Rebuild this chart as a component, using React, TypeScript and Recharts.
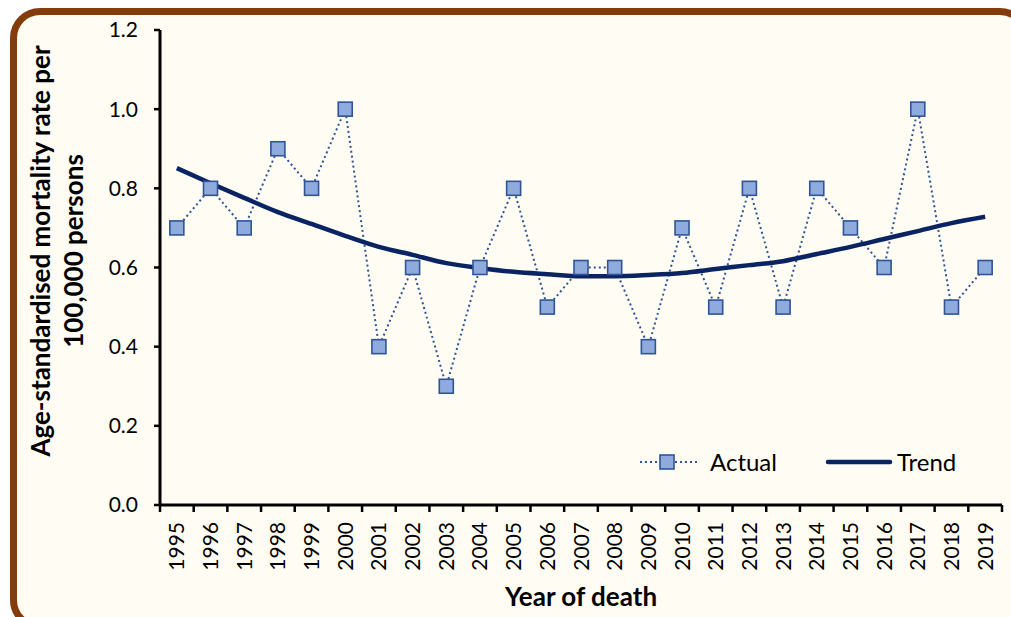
import { LineChart, Line, XAxis, YAxis } from "recharts";

const years = [
  "1995", "1996", "1997", "1998", "1999", "2000", "2001", "2002", "2003",
  "2004", "2005", "2006", "2007", "2008", "2009", "2010", "2011", "2012",
  "2013", "2014", "2015", "2016", "2017", "2018", "2019",
];
const actual = [
  0.7, 0.8, 0.7, 0.9, 0.8, 1.0, 0.4, 0.6, 0.3, 0.6, 0.8, 0.5, 0.6, 0.6, 0.4,
  0.7, 0.5, 0.8, 0.5, 0.8, 0.7, 0.6, 1.0, 0.5, 0.6,
];
const trend = [
  0.851, 0.813, 0.776, 0.74, 0.71, 0.68, 0.652, 0.632, 0.611, 0.599, 0.589,
  0.583, 0.578, 0.578, 0.581, 0.586, 0.596, 0.606, 0.616, 0.634, 0.652, 0.672,
  0.692, 0.712, 0.728,
];
const yTicks = [0, 0.2, 0.4, 0.6, 0.8, 1.0, 1.2];

const data = years.map((year, i) => ({ year, actual: actual[i], trend: trend[i] }));

const W = 1011;
const H = 617;
const PLOT_LEFT = 160;
const PLOT_RIGHT = 1002;
const AXIS_Y = 505;
const BAND = (PLOT_RIGHT - PLOT_LEFT) / years.length;

const FONT = "Lato, 'Open Sans', sans-serif";
const MARKER_FILL = "#8FAADC";
const MARKER_STROKE = "#2F5597";
const TREND = "#0A2362";

function XTick(props: any) {
  const { x, payload, index } = props;
  const half = BAND / 2;
  const last = index === years.length - 1;
  return (
    <g>
      <line x1={x - half} y1={AXIS_Y} x2={x - half} y2={AXIS_Y + 7} stroke="#000" strokeWidth={2.5} />
      {last && (
        <line x1={x + half} y1={AXIS_Y} x2={x + half} y2={AXIS_Y + 7} stroke="#000" strokeWidth={2.5} />
      )}
      <text
        transform={`translate(${x + 7.5},${AXIS_Y + 17}) rotate(-90)`}
        textAnchor="end"
        fontSize={21}
        fontFamily={FONT}
        fill="#000"
      >
        {payload.value}
      </text>
    </g>
  );
}

function SquareDot(props: any) {
  const { cx, cy } = props;
  if (cx == null || cy == null) return null;
  return (
    <rect x={cx - 7} y={cy - 7} width={14} height={14} fill={MARKER_FILL} stroke={MARKER_STROKE} strokeWidth={1.6} />
  );
}

function YTitle() {
  return (
    <text
      transform="translate(57,251) rotate(-90)"
      textAnchor="middle"
      fontSize={26}
      fontWeight="bold"
      fontFamily={FONT}
      fill="#000"
    >
      <tspan x={0} dy={-7}>Age-standardised mortality rate per</tspan>
      <tspan x={0} dy={33}>100,000 persons</tspan>
    </text>
  );
}

function XTitle() {
  return (
    <text x={(PLOT_LEFT + PLOT_RIGHT) / 2} y={606} textAnchor="middle" fontSize={26} fontWeight="bold" fontFamily={FONT} fill="#000">
      Year of death
    </text>
  );
}

function LegendBox() {
  return (
    <svg width={360} height={34} style={{ display: "block" }}>
      <line x1={10} y1={17} x2={68} y2={17} stroke={MARKER_STROKE} strokeWidth={2} strokeDasharray="2 3" />
      <rect x={30} y={10} width={14} height={14} fill={MARKER_FILL} stroke={MARKER_STROKE} strokeWidth={1.6} />
      <text x={80} y={25.5} fontSize={24} fontFamily={FONT} fill="#000">Actual</text>
      <line x1={198} y1={17} x2={260} y2={17} stroke={TREND} strokeWidth={4.5} strokeLinecap="round" />
      <text x={267} y={25.5} fontSize={24} fontFamily={FONT} fill="#000">Trend</text>
    </svg>
  );
}

export default function App() {
  return (
    <div style={{ position: "fixed", left: 0, top: 0, width: W, height: H, overflow: "hidden", background: "#fff" }}>
      <div
        style={{
          position: "absolute",
          left: 10,
          top: 8,
          width: 1020,
          height: 622,
          boxSizing: "border-box",
          border: "7px solid #843C0C",
          borderRadius: 30,
          background: "#FFFCF3",
        }}
      />
      <div style={{ position: "absolute", left: 0, top: 0 }}>
        <LineChart
          width={W}
          height={H}
          data={data}
          margin={{ top: 30, right: W - PLOT_RIGHT, left: PLOT_LEFT - 60, bottom: H - AXIS_Y - 60 }}
          style={{ fontFamily: FONT }}
        >
          <XAxis
            dataKey="year"
            height={60}
            interval={0}
            padding={{ left: BAND / 2, right: BAND / 2 }}
            axisLine={{ stroke: "#000", strokeWidth: 3 }}
            tickLine={false}
            tick={<XTick />}
            label={<XTitle />}
          />
          <YAxis
            width={60}
            domain={[0, 1.2]}
            ticks={yTicks}
            interval={0}
            tickFormatter={(v: number) => v.toFixed(1)}
            axisLine={{ stroke: "#000", strokeWidth: 3 }}
            tickLine={{ stroke: "#000", strokeWidth: 2.5 }}
            tickSize={6}
            tickMargin={16}
            tick={{ fontSize: 21, fill: "#000", fontFamily: FONT }}
            label={<YTitle />}
          />
          <Line
            dataKey="actual"
            name="Actual"
            stroke={MARKER_STROKE}
            strokeWidth={2}
            strokeDasharray="2 3"
            dot={<SquareDot />}
            activeDot={false}
            isAnimationActive={false}
          />
          <Line
            dataKey="trend"
            name="Trend"
            type="monotone"
            stroke={TREND}
            strokeWidth={4.5}
            dot={false}
            activeDot={false}
            isAnimationActive={false}
          />
        </LineChart>
      </div>
      <div style={{ position: "absolute", left: 630, top: 445 }}>
        <LegendBox />
      </div>
    </div>
  );
}
